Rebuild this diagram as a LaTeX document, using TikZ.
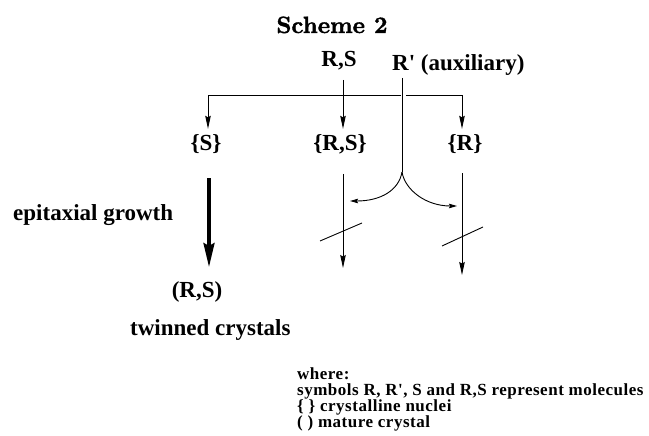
\documentclass[tikz,border=0pt]{standalone}
\usepackage{fontspec}
\newfontfamily\tms{Liberation Serif}[Ligatures=TeXOff]
\newfontfamily\legfont{Liberation Serif}[Ligatures=TeXOff, LetterSpace=3]
\newfontfamily\titlefont{lmroman10-bold}[Extension=.otf, FakeBold=1.5]
\usetikzlibrary{arrows.meta}
\tikzset{
  lab/.style={font=\tms\bfseries\fontsize{23}{27}\selectfont, inner sep=0pt, anchor=base},
  titlestyle/.style={font=\titlefont\fontsize{23.5}{27}\selectfont, inner sep=0pt, anchor=base},
  leg/.style={font=\legfont\bfseries\fontsize{17}{16}\selectfont, inner sep=0pt, align=left, anchor=base west},
  ln/.style={line width=0.9pt},
  arr/.style={ln, -{Stealth[length=13pt,width=5.5pt,inset=1.5pt]}},
  carr/.style={ln, -{Stealth[length=8pt,width=4.5pt,inset=1pt]}},
  bigarr/.style={line width=3.3pt, -{Stealth[length=24pt,width=11pt,inset=3pt]}}
}
\begin{document}
\begin{tikzpicture}[x=1pt,y=-1pt]
\useasboundingbox (0,0) rectangle (649,436);
% texts
\node[titlestyle] (title) at (332,33) {Scheme 2};
\node[lab] (rs) at (339,67) {R,S};
\node[lab, anchor=base west] (aux) at (392,71) {R' (auxiliary)};
\node[lab] (nS) at (206,150) {\{S\}};
\node[lab] (nRS) at (340,150) {\{R,S\}};
\node[lab] (nR) at (465,150) {\{R\}};
\node[lab, anchor=base west] (epi) at (13,220) {epitaxial growth};
\node[lab] (rsc) at (197,297) {(R,S)};
\node[lab, anchor=base west] (tw) at (130,335) {twinned crystals};
\node[leg] (legend) at (297,427) {where:\\symbols R, R', S and R,S represent molecules\\\{ \} crystalline nuclei\\( ) mature crystal};
% coordinates
\coordinate (hL) at (208,95);
\coordinate (hR) at (462,95);
\coordinate (hM1) at (401,95);
\coordinate (hM2) at (406,95);
\coordinate (rsTop) at (343,80);
\coordinate (auxTop) at (402,78);
\coordinate (J) at (402,172);
\coordinate (e1) at (343,268);
\coordinate (e2) at (462,275);
\coordinate (tk) at (209,267);
\coordinate (cL) at (350,201);
\coordinate (cR) at (457,206);
% connectors
\draw[arr, shorten >=5pt] (hM1) -- (hL) -- (hL |- nS.north);
\draw[arr, shorten >=5pt] (hM2) -- (hR) -- (hR |- nR.north);
\draw[arr, shorten >=5pt] (rsTop) -- (rsTop |- nRS.north);
\draw[ln] (auxTop) -- (J);
\draw[carr] (J) .. controls (399,190) and (381,201) .. (cL);
\draw[carr] (J) .. controls (405,190) and (426,206) .. (cR);
\draw[arr, shorten <=20pt] (nRS.south -| e1) -- (e1);
\draw[arr, shorten <=20pt] (nR.south -| e2) -- (e2);
\draw[bigarr, shorten <=25pt] (nS.south -| tk) -- (tk);
% blocking slashes
\draw[ln] (320,241) -- (362,223);
\draw[ln] (442,246) -- (483,227);
\end{tikzpicture}
\end{document}
